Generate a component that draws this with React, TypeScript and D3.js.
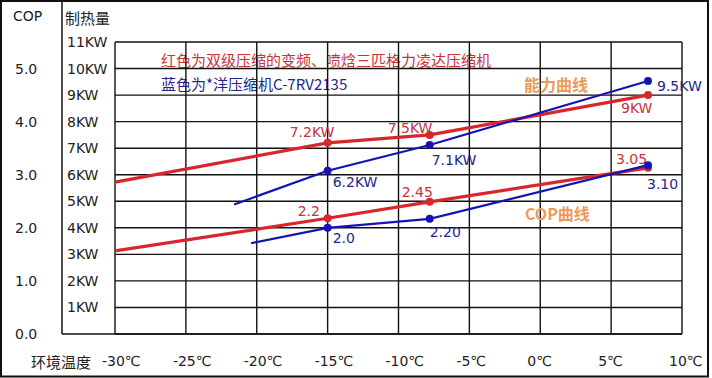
import React from "react";
import * as d3 from "d3";

// ---- data ----
const tempTicks = [-30, -25, -20, -15, -10, -5, 0, 5, 10];
const tempTickLabels = ["-30℃", "-25℃", "-20℃", "-15℃", "-10℃", "-5℃", "0℃", "5℃", "10℃"];
const kwTicks = [1, 2, 3, 4, 5, 6, 7, 8, 9, 10, 11];
const copTicks = [0, 1, 2, 3, 4, 5];

// red: 双级压缩 (格力凌达)
const redCapT = [-30, -15, -7.8, 7.6];
const redCapV = [5.72, 7.2, 7.5, 9.0];
const redCopT = [-30, -15, -7.8, 7.6];
const redCopV = [1.565, 2.18, 2.49, 3.13];
// blue: *洋 C-7RV2135
const blueCapT = [-21.6, -15, -7.8, 7.6];
const blueCapV = [4.88, 6.15, 7.12, 9.53];
const blueCopT = [-20.4, -15, -7.8, 7.6];
const blueCopV = [1.71, 2.0, 2.17, 3.18];

const redCapLabels = ["7.2KW", "7.5KW", "9KW"];
const blueCapLabels = ["6.2KW", "7.1KW", "9.5KW"];
const redCopLabels = ["2.2", "2.45", "3.05"];
const blueCopLabels = ["2.0", "2.20", "3.10"];

const legendRed = "红色为双级压缩的变频、喷焓三匹格力凌达压缩机";
const legendBlue = "蓝色为*洋压缩机C-7RV2135";

// ---- styles ----
const W = 712, H = 378;
const RED = "#d8262c";
const BLUE = "#1414b4";
const RED_TXT = "#c8323a";
const BLUE_TXT = "#25258c";
const ORANGE = "#ec9a58";
const NUM_FONT = "'DejaVu Sans', sans-serif";
const CJK_FONT = "'Noto Sans CJK SC', sans-serif";

// label offsets relative to their point [dx, dy]
const redCapOff = [[-38, -11], [-42, -7], [-27, 13]];
const blueCapOff = [[5, 11], [2, 15], [9, 5]];
const redCopOff = [[-30, -7], [-28, -10], [-32, -9]];
const blueCopOff = [[5, 10], [0, 13], [-1, 19]];

export default function App() {
  const x = d3.scaleLinear().domain([-30, 10]).range([115, 682]);
  const yKW = d3.scaleLinear().domain([0, 11]).range([334, 42]);
  const yCOP = d3.scaleLinear().domain([0, 5.5]).range([334, 42]);

  const lineKW = d3.line<[number, number]>().x(d => x(d[0])).y(d => yKW(d[1]));
  const lineCOP = d3.line<[number, number]>().x(d => x(d[0])).y(d => yCOP(d[1]));

  const zip = (a: number[], b: number[]) => a.map((v, i) => [v, b[i]] as [number, number]);

  const series = [
    { pts: zip(redCapT, redCapV), gen: lineKW, y: yKW, color: RED, w: 3.2, labels: redCapLabels, off: redCapOff, tc: RED_TXT },
    { pts: zip(blueCapT, blueCapV), gen: lineKW, y: yKW, color: BLUE, w: 2.2, labels: blueCapLabels, off: blueCapOff, tc: BLUE_TXT },
    { pts: zip(redCopT, redCopV), gen: lineCOP, y: yCOP, color: RED, w: 3.2, labels: redCopLabels, off: redCopOff, tc: RED_TXT },
    { pts: zip(blueCopT, blueCopV), gen: lineCOP, y: yCOP, color: BLUE, w: 2.2, labels: blueCopLabels, off: blueCopOff, tc: BLUE_TXT },
  ];

  const x0 = x(-30), x1 = x(10), yTop = yKW(11), yBot = yKW(0);

  return (
    <svg width={W} height={H} style={{ position: "absolute", left: 0, top: 0, background: "#fff" }}>
      <rect x={0} y={0} width={W} height={H} fill="#fff" />
      {/* legend text (under the grid) */}
      <text x={161} y={59} fill={RED_TXT} fontFamily={CJK_FONT} fontSize={15} dominantBaseline="central">{legendRed}</text>
      <text x={161} y={83.5} fill={BLUE_TXT} fontFamily={CJK_FONT} fontSize={15} dominantBaseline="central">{legendBlue}</text>

      {/* frame */}
      <rect x={1} y={1} width={707} height={375.5} fill="none" stroke="#111" strokeWidth={2} />
      <line x1={62} x2={62} y1={0} y2={yBot} stroke="#111" strokeWidth={1.5} />
      <line x1={62} x2={x1} y1={yBot} y2={yBot} stroke="#111" strokeWidth={1.5} />

      {/* grid */}
      {tempTicks.map(t => (
        <line key={"v" + t} x1={x(t)} x2={x(t)} y1={yTop} y2={yBot} stroke="#111" strokeWidth={1.4} />
      ))}
      {[0, ...kwTicks].map(k => (
        <line key={"h" + k} x1={x0} x2={x1} y1={yKW(k)} y2={yKW(k)} stroke="#111" strokeWidth={1.4} />
      ))}

      {/* axis titles */}
      <text x={13} y={16} fontFamily={NUM_FONT} fontSize={14} fill="#222" dominantBaseline="central">COP</text>
      <text x={65} y={17} fontFamily={CJK_FONT} fontSize={15} fill="#222" dominantBaseline="central">制热量</text>
      <text x={31} y={361} fontFamily={CJK_FONT} fontSize={15} fill="#222" dominantBaseline="central">环境温度</text>

      {/* left axes */}
      {copTicks.map(c => (
        <text key={"c" + c} x={15} y={yCOP(c)} fontFamily={NUM_FONT} fontSize={14} fill="#222" dominantBaseline="central">{c.toFixed(1)}</text>
      ))}
      {kwTicks.map(k => (
        <text key={"k" + k} x={67} y={yKW(k)} fontFamily={NUM_FONT} fontSize={14} fill="#222" dominantBaseline="central">{k + "KW"}</text>
      ))}
      {/* bottom axis */}
      {tempTicks.map((t, i) => (
        <text key={"t" + t} x={x(t) - 13} y={361} fontFamily={NUM_FONT} fontSize={14} fill="#222" dominantBaseline="central">{tempTickLabels[i]}</text>
      ))}

      {/* lines, points, labels */}
      {series.map((s, si) => (
        <g key={"s" + si}>
          <path d={s.gen(s.pts) || ""} fill="none" stroke={s.color} strokeWidth={s.w} />
          {s.pts.slice(1).map((p, i) => (
            <circle key={i} cx={x(p[0])} cy={s.y(p[1])} r={4} fill={s.color} />
          ))}
          {s.pts.slice(1).map((p, i) => (
            <text key={"l" + i} x={x(p[0]) + s.off[i][0]} y={s.y(p[1]) + s.off[i][1]} fill={s.tc}
              fontFamily={NUM_FONT} fontSize={14} dominantBaseline="central">{s.labels[i]}</text>
          ))}
        </g>
      ))}

      {/* curve captions */}
      <text x={524} y={84} fill={ORANGE} fontFamily={CJK_FONT} fontSize={16} fontWeight="bold" dominantBaseline="central">能力曲线</text>
      <text x={525} y={213} fill={ORANGE} fontFamily={CJK_FONT} fontSize={16} fontWeight="bold" dominantBaseline="central">COP曲线</text>
    </svg>
  );
}
